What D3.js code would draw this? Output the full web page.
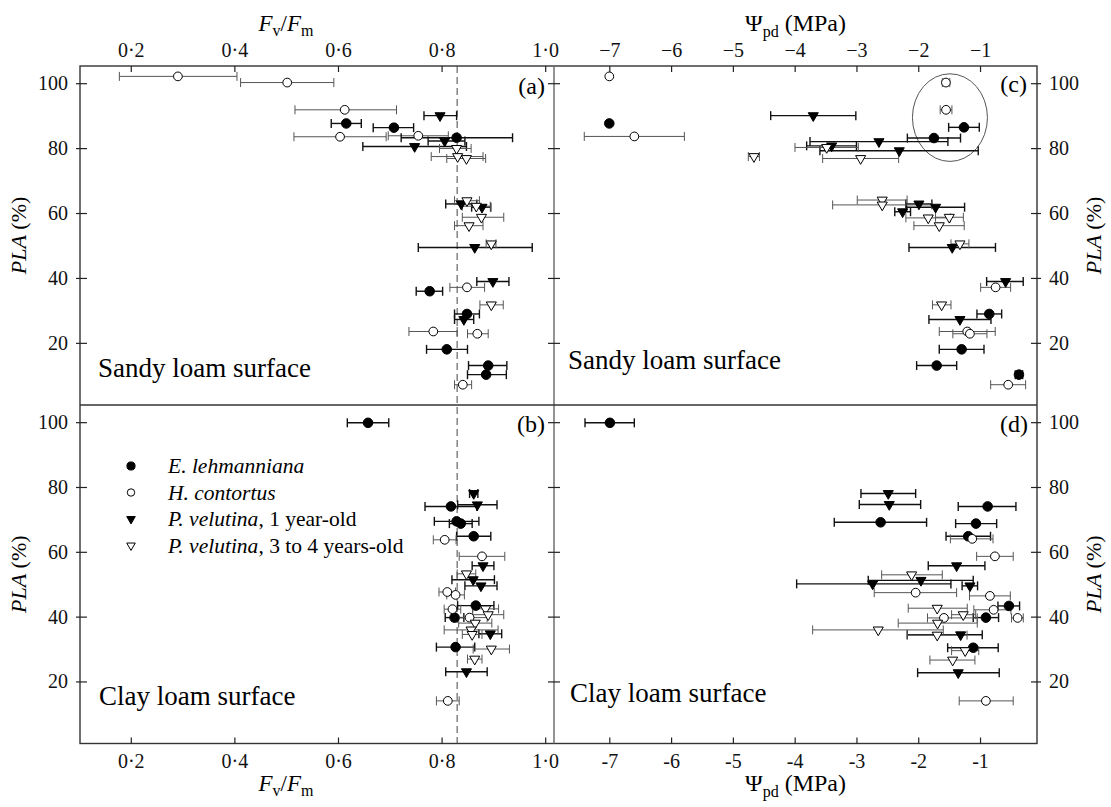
<!DOCTYPE html>
<html>
<head>
<meta charset="utf-8">
<script src="https://cdnjs.cloudflare.com/ajax/libs/d3/7.8.5/d3.min.js"></script>
<style>
  body { margin: 0; background: #fff; }
  svg, svg text { font-family: "Liberation Serif", "DejaVu Serif", serif; }
</style>
</head>
<body>
<div id="chart"></div>
<script>
'use strict';

// species codes and legend text
var species = ['El', 'Hc', 'Pv1', 'Pv3'];
var speciesItalic = ['E. lehmanniana', 'H. contortus', 'P. velutina', 'P. velutina'];
var speciesSuffix = ['', '', ', 1 year-old', ', 3 to 4 years-old'];

// tick values
var fvfmTicks = [0.2, 0.4, 0.6, 0.8, 1.0];
var psiTicks = [-7, -6, -5, -4, -3, -2, -1];
var plaTicks = [20, 40, 60, 80, 100];
var fvfmRef = 0.83;

// rows: species, mean, lower, upper, PLA (%)
var sandyFvFm = [
  ['Hc', 0.291, 0.178, 0.405, 102.1], ['Hc', 0.502, 0.412, 0.592, 100.2],
  ['Hc', 0.613, 0.517, 0.713, 91.8], ['Hc', 0.604, 0.515, 0.693, 83.5],
  ['Hc', 0.755, 0.697, 0.813, 83.8], ['Hc', 0.849, 0.816, 0.883, 37.1],
  ['Hc', 0.784, 0.737, 0.830, 23.5], ['Hc', 0.869, 0.850, 0.890, 22.8],
  ['Hc', 0.841, 0.825, 0.858, 7.1],
  ['El', 0.616, 0.587, 0.645, 87.6], ['El', 0.708, 0.668, 0.746, 86.3],
  ['El', 0.829, 0.722, 0.937, 83.2], ['El', 0.777, 0.751, 0.802, 35.9],
  ['El', 0.849, 0.825, 0.873, 28.9], ['El', 0.810, 0.771, 0.850, 18.0],
  ['El', 0.890, 0.852, 0.926, 13.0], ['El', 0.886, 0.850, 0.925, 10.2],
  ['Pv1', 0.797, 0.766, 0.829, 90.0], ['Pv1', 0.806, 0.774, 0.845, 82.2],
  ['Pv1', 0.748, 0.648, 0.848, 80.5], ['Pv1', 0.838, 0.808, 0.868, 62.8],
  ['Pv1', 0.878, 0.858, 0.895, 61.8], ['Pv1', 0.864, 0.755, 0.975, 49.4],
  ['Pv1', 0.899, 0.868, 0.930, 38.9], ['Pv1', 0.843, 0.825, 0.862, 27.2],
  ['Pv3', 0.829, 0.796, 0.857, 79.9], ['Pv3', 0.831, 0.780, 0.880, 77.4],
  ['Pv3', 0.848, 0.810, 0.885, 76.8], ['Pv3', 0.849, 0.825, 0.873, 63.8],
  ['Pv3', 0.867, 0.840, 0.894, 62.1], ['Pv3', 0.877, 0.840, 0.920, 58.7],
  ['Pv3', 0.853, 0.825, 0.880, 56.1], ['Pv3', 0.896, 0.886, 0.905, 50.5],
  ['Pv3', 0.896, 0.874, 0.919, 31.7]
];

var clayFvFm = [
  ['El', 0.658, 0.618, 0.698, 99.8], ['El', 0.818, 0.768, 0.868, 74.0],
  ['El', 0.829, 0.786, 0.872, 69.4], ['El', 0.837, 0.815, 0.859, 68.7],
  ['El', 0.862, 0.829, 0.895, 64.8], ['El', 0.866, 0.831, 0.901, 43.4],
  ['El', 0.825, 0.807, 0.843, 39.7], ['El', 0.827, 0.790, 0.864, 30.6],
  ['Hc', 0.806, 0.784, 0.828, 63.7], ['Hc', 0.878, 0.834, 0.922, 58.6],
  ['Hc', 0.811, 0.795, 0.827, 47.6], ['Hc', 0.827, 0.810, 0.844, 46.7],
  ['Hc', 0.821, 0.805, 0.837, 42.3], ['Hc', 0.854, 0.820, 0.888, 39.7],
  ['Hc', 0.812, 0.790, 0.834, 14.0],
  ['Pv1', 0.862, 0.854, 0.870, 78.0], ['Pv1', 0.869, 0.831, 0.907, 74.5],
  ['Pv1', 0.880, 0.859, 0.901, 55.7], ['Pv1', 0.861, 0.820, 0.902, 51.4],
  ['Pv1', 0.876, 0.845, 0.907, 49.5], ['Pv1', 0.894, 0.872, 0.916, 34.7],
  ['Pv1', 0.848, 0.808, 0.888, 23.0],
  ['Pv3', 0.848, 0.830, 0.866, 53.2], ['Pv3', 0.885, 0.860, 0.910, 42.4],
  ['Pv3', 0.890, 0.860, 0.920, 40.6], ['Pv3', 0.865, 0.833, 0.897, 38.0],
  ['Pv3', 0.857, 0.805, 0.909, 35.9], ['Pv3', 0.859, 0.840, 0.878, 34.5],
  ['Pv3', 0.896, 0.861, 0.931, 30.0], ['Pv3', 0.864, 0.850, 0.878, 26.9]
];

var sandyPsi = [
  ['El', -7.0, -7.0, -7.0, 87.6], ['El', -1.260, -1.508, -1.012, 86.4],
  ['El', -1.746, -2.176, -1.316, 83.1], ['El', -0.851, -1.05, -0.65, 28.9],
  ['El', -1.298, -1.66, -0.936, 18.0], ['El', -1.702, -2.026, -1.378, 13.0],
  ['El', -0.370, -0.43, -0.31, 10.2],
  ['Hc', -7.0, -7.0, -7.0, 102.1], ['Hc', -6.595, -7.405, -5.785, 83.6],
  ['Hc', -1.552, -1.61, -1.49, 100.2], ['Hc', -1.55, -1.645, -1.455, 91.8],
  ['Hc', -0.748, -0.99, -0.505, 37.1], ['Hc', -1.207, -1.66, -0.754, 23.5],
  ['Hc', -1.164, -1.44, -0.888, 22.8], ['Hc', -0.544, -0.828, -0.262, 7.1],
  ['Pv1', -3.699, -4.388, -3.010, 90.0], ['Pv1', -2.636, -3.752, -1.520, 82.0],
  ['Pv1', -3.401, -3.806, -3.0, 80.7], ['Pv1', -2.307, -3.591, -1.029, 79.2],
  ['Pv1', -1.989, -2.2, -1.78, 62.8], ['Pv1', -1.719, -2.188, -1.25, 61.8],
  ['Pv1', -2.253, -2.38, -2.125, 60.4], ['Pv1', -1.450, -2.15, -0.75, 49.4],
  ['Pv1', -0.586, -0.893, -0.301, 38.9], ['Pv1', -1.325, -1.827, -0.823, 27.2],
  ['Pv3', -3.482, -3.995, -2.97, 80.2], ['Pv3', -4.659, -4.75, -4.57, 77.4],
  ['Pv3', -2.932, -3.547, -2.317, 76.8], ['Pv3', -2.583, -2.987, -2.18, 64.0],
  ['Pv3', -2.583, -3.385, -1.78, 62.5], ['Pv3', -1.838, -2.2, -1.48, 58.5],
  ['Pv3', -1.498, -1.72, -1.27, 58.7], ['Pv3', -1.660, -2.07, -1.256, 56.1],
  ['Pv3', -1.325, -1.47, -1.18, 50.5], ['Pv3', -1.622, -1.77, -1.47, 31.7]
];

var clayPsi = [
  ['El', -6.99, -7.393, -6.595, 99.8], ['El', -0.877, -1.353, -0.419, 74.0],
  ['El', -2.609, -3.359, -1.865, 69.1], ['El', -1.066, -1.395, -0.731, 68.7],
  ['El', -1.191, -1.55, -0.83, 64.8], ['El', -0.532, -0.71, -0.36, 43.3],
  ['El', -0.905, -1.11, -0.70, 39.7], ['El', -1.110, -1.524, -0.706, 30.4],
  ['Hc', -1.126, -1.48, -0.79, 64.0], ['Hc', -0.759, -1.055, -0.463, 58.6],
  ['Hc', -2.042, -2.712, -1.379, 47.4], ['Hc', -0.840, -1.17, -0.51, 46.4],
  ['Hc', -0.780, -1.1, -0.5, 42.1], ['Hc', -1.584, -1.85, -1.045, 39.6],
  ['Hc', -0.392, -0.49, -0.30, 39.6], ['Hc', -0.905, -1.337, -0.463, 14.0],
  ['Pv1', -2.485, -2.927, -2.042, 78.0], ['Pv1', -2.469, -2.954, -1.961, 74.6],
  ['Pv1', -1.379, -1.838, -0.921, 55.7], ['Pv1', -1.956, -2.809, -1.11, 51.2],
  ['Pv1', -2.738, -3.968, -1.471, 50.1], ['Pv1', -1.163, -1.29, -1.04, 49.5],
  ['Pv1', -1.314, -2.178, -0.964, 34.4], ['Pv1', -1.353, -2.01, -0.689, 22.7],
  ['Pv3', -2.107, -2.592, -1.611, 52.9], ['Pv3', -1.693, -2.162, -1.207, 42.6],
  ['Pv3', -1.272, -1.46, -1.07, 40.6], ['Pv3', -1.687, -2.324, -1.045, 38.0],
  ['Pv3', -2.647, -3.709, -1.595, 35.9], ['Pv3', -1.693, -2.178, -1.21, 34.3],
  ['Pv3', -1.240, -1.46, -1.02, 29.5], ['Pv3', -1.443, -1.811, -1.083, 26.6]
];

// circled group in (c): centre x, centre y, radius x, radius y (data units)
var circledGroup = [-1.487, 89.4, 0.607, 13.5];

var svg, xF, xP, yTop, yBot;
var W = 1111, H = 807;
var leftX = 80, midX = 554, rightX = 1037, topY = 66, midY = 405, botY = 743.5;
var serif = '"Liberation Serif", "DejaVu Serif", serif';

function setup(){
  svg = d3.select('#chart').append('svg')
    .attr('width', W)
    .attr('height', H)
    .attr('font-family', serif);

  xF = d3.scaleLinear().domain([0.102, 1.017]).range([leftX, midX]);
  xP = d3.scaleLinear().domain([-7.895, -0.078]).range([midX, rightX]);
  yTop = d3.scaleLinear().domain([0.85, 105.3]).range([midY, topY]);
  yBot = d3.scaleLinear().domain([0.85, 105.3]).range([botY, midY]);

  draw();
}

function marker(g, sp, x, y, scale){
  var s = scale || 1;
  var filled = (sp === 'El' || sp === 'Pv1');
  var isCircle = (sp === 'El' || sp === 'Hc');
  var sym = d3.symbol()
    .type(isCircle ? d3.symbolCircle : d3.symbolTriangle)
    .size((isCircle ? (filled ? 72 : 60) : 44) * s * s);
  return g.append('path')
    .attr('d', sym())
    .attr('transform', 'translate(' + x + ',' + y + ')' + (isCircle ? '' : ' rotate(180)'))
    .attr('fill', filled ? '#000' : '#fff')
    .attr('stroke', '#000')
    .attr('stroke-width', 1);
}

function drawPanel(data, x, y){
  var g = svg.append('g');
  var bars = g.append('g');
  var cap = 4.5;

  data.forEach(function(d){
    if (d[3] - d[2] <= 0) return;
    var filled = (d[0] === 'El' || d[0] === 'Pv1');
    var col = filled ? '#111' : '#555';
    var sw = filled ? 1.4 : 1;
    var yy = y(d[4]);
    bars.append('line')
      .attr('x1', x(d[2])).attr('x2', x(d[3]))
      .attr('y1', yy).attr('y2', yy)
      .attr('stroke', col).attr('stroke-width', sw);
    [d[2], d[3]].forEach(function(v){
      bars.append('line')
        .attr('x1', x(v)).attr('x2', x(v))
        .attr('y1', yy - cap).attr('y2', yy + cap)
        .attr('stroke', col).attr('stroke-width', sw);
    });
  });

  var pts = g.append('g');
  data.forEach(function(d){
    marker(pts, d[0], x(d[1]), y(d[4]));
  });
}

function fvfmLabel(v){
  return d3.format('.1f')(v).replace('.', '\u00b7');
}

function draw(){
  // frames
  svg.append('rect')
    .attr('x', leftX).attr('y', topY)
    .attr('width', rightX - leftX).attr('height', botY - topY)
    .attr('fill', 'none').attr('stroke', '#333').attr('stroke-width', 1.4);
  svg.append('line')
    .attr('x1', midX).attr('x2', midX).attr('y1', topY).attr('y2', botY)
    .attr('stroke', '#666').attr('stroke-width', 1.4);
  svg.append('line')
    .attr('x1', leftX).attr('x2', rightX).attr('y1', midY).attr('y2', midY)
    .attr('stroke', '#333').attr('stroke-width', 1.4);

  // x axes
  var axTopF = svg.append('g').attr('transform', 'translate(0,' + topY + ')')
    .call(d3.axisTop(xF).tickValues(fvfmTicks).tickSize(-6).tickPadding(9).tickFormat(fvfmLabel));
  var axBotF = svg.append('g').attr('transform', 'translate(0,' + botY + ')')
    .call(d3.axisBottom(xF).tickValues(fvfmTicks).tickSize(-6).tickPadding(10).tickFormat(fvfmLabel));
  var axTopP = svg.append('g').attr('transform', 'translate(0,' + topY + ')')
    .call(d3.axisTop(xP).tickValues(psiTicks).tickSize(-6).tickPadding(9)
      .tickFormat(function(v){ return '\u2212' + Math.abs(v); }));
  var axBotP = svg.append('g').attr('transform', 'translate(0,' + botY + ')')
    .call(d3.axisBottom(xP).tickValues(psiTicks).tickSize(-6).tickPadding(10)
      .tickFormat(function(v){ return '-' + Math.abs(v); }));

  // y axes
  var axes = [axTopF, axBotF, axTopP, axBotP];
  [yTop, yBot].forEach(function(y){
    var aL = svg.append('g').attr('transform', 'translate(' + leftX + ',0)')
      .call(d3.axisLeft(y).tickValues(plaTicks).tickSize(-7).tickPadding(12));
    aL.selectAll('.tick line').attr('x1', -4);
    var aM = svg.append('g').attr('transform', 'translate(' + midX + ',0)')
      .call(d3.axisLeft(y).tickValues(plaTicks).tickSize(6).tickFormat(''));
    aM.selectAll('.tick line').attr('x1', 6);
    var aR = svg.append('g').attr('transform', 'translate(' + rightX + ',0)')
      .call(d3.axisRight(y).tickValues(plaTicks).tickSize(-6).tickPadding(12));
    aR.selectAll('.tick line').attr('x1', 4);
    axes.push(aL, aM, aR);
  });
  axes.forEach(function(a){
    a.attr('font-family', serif).attr('font-size', 20);
    a.select('.domain').remove();
    a.selectAll('.tick line').attr('stroke', '#222').attr('stroke-width', 1.2);
    a.selectAll('text').attr('fill', '#111');
  });

  // reference Fv/Fm line
  svg.append('line')
    .attr('x1', xF(fvfmRef)).attr('x2', xF(fvfmRef))
    .attr('y1', topY).attr('y2', botY)
    .attr('stroke', '#444').attr('stroke-width', 1)
    .attr('stroke-dasharray', '7,4');

  // circled group
  svg.append('ellipse')
    .attr('cx', xP(circledGroup[0])).attr('cy', yTop(circledGroup[1]))
    .attr('rx', xP(circledGroup[0] + circledGroup[2]) - xP(circledGroup[0]))
    .attr('ry', yTop(circledGroup[1] - circledGroup[3]) - yTop(circledGroup[1]))
    .attr('fill', 'none').attr('stroke', '#555').attr('stroke-width', 1);

  drawPanel(sandyFvFm, xF, yTop);
  drawPanel(clayFvFm, xF, yBot);
  drawPanel(sandyPsi, xP, yTop);
  drawPanel(clayPsi, xP, yBot);

  // panel letters
  [['(a)', midX - 9, 94], ['(b)', midX - 9, 432], ['(c)', rightX - 10, 92], ['(d)', rightX - 9, 432]]
    .forEach(function(t){
      svg.append('text').attr('x', t[1]).attr('y', t[2])
        .attr('text-anchor', 'end').attr('font-size', 24).text(t[0]);
    });

  // soil labels
  [['Sandy loam surface', leftX + 18, 377], ['Clay loam surface', leftX + 19, 705],
   ['Sandy loam surface', midX + 14, 369], ['Clay loam surface', midX + 16, 702]]
    .forEach(function(t){
      svg.append('text').attr('x', t[1]).attr('y', t[2])
        .attr('font-size', 27).text(t[0]);
    });

  // axis titles
  function fvfmTitle(yPos){
    var t = svg.append('text').attr('x', 286).attr('y', yPos)
      .attr('text-anchor', 'middle').attr('font-size', 23);
    t.append('tspan').style('font-style', 'italic').text('F');
    t.append('tspan').attr('font-size', 16).attr('dy', 5).text('v');
    t.append('tspan').attr('dy', -5).text('/');
    t.append('tspan').style('font-style', 'italic').text('F');
    t.append('tspan').attr('font-size', 16).attr('dy', 5).text('m');
  }
  function psiTitle(yPos){
    var t = svg.append('text').attr('x', (midX + rightX) / 2).attr('y', yPos)
      .attr('text-anchor', 'middle').attr('font-size', 24);
    t.append('tspan').text('\u03a8');
    t.append('tspan').attr('font-size', 16).attr('dy', 6).text('pd');
    t.append('tspan').attr('dy', -6).text(' (MPa)');
  }
  fvfmTitle(31);
  fvfmTitle(791);
  psiTitle(31);
  psiTitle(791);

  function plaTitle(xPos, yPos){
    var t = svg.append('text')
      .attr('transform', 'translate(' + xPos + ',' + yPos + ') rotate(-90)')
      .attr('text-anchor', 'middle').attr('font-size', 22);
    t.append('tspan').style('font-style', 'italic').text('PLA');
    t.append('tspan').text(' (%)');
  }
  plaTitle(26, (topY + midY) / 2);
  plaTitle(26, (midY + botY) / 2);
  plaTitle(1101, (topY + midY) / 2);
  plaTitle(1101, (midY + botY) / 2);

  // legend
  var lg = svg.append('g');
  species.forEach(function(sp, i){
    var cy = 466 + i * 26.5;
    marker(lg, sp, leftX + 51, cy, 0.85);
    var t = lg.append('text').attr('x', leftX + 88).attr('y', cy + 7).attr('font-size', 21.5);
    t.append('tspan').style('font-style', 'italic').text(speciesItalic[i]);
    if (speciesSuffix[i]) t.append('tspan').text(speciesSuffix[i]);
  });
}

setup();
</script>
</body>
</html>
